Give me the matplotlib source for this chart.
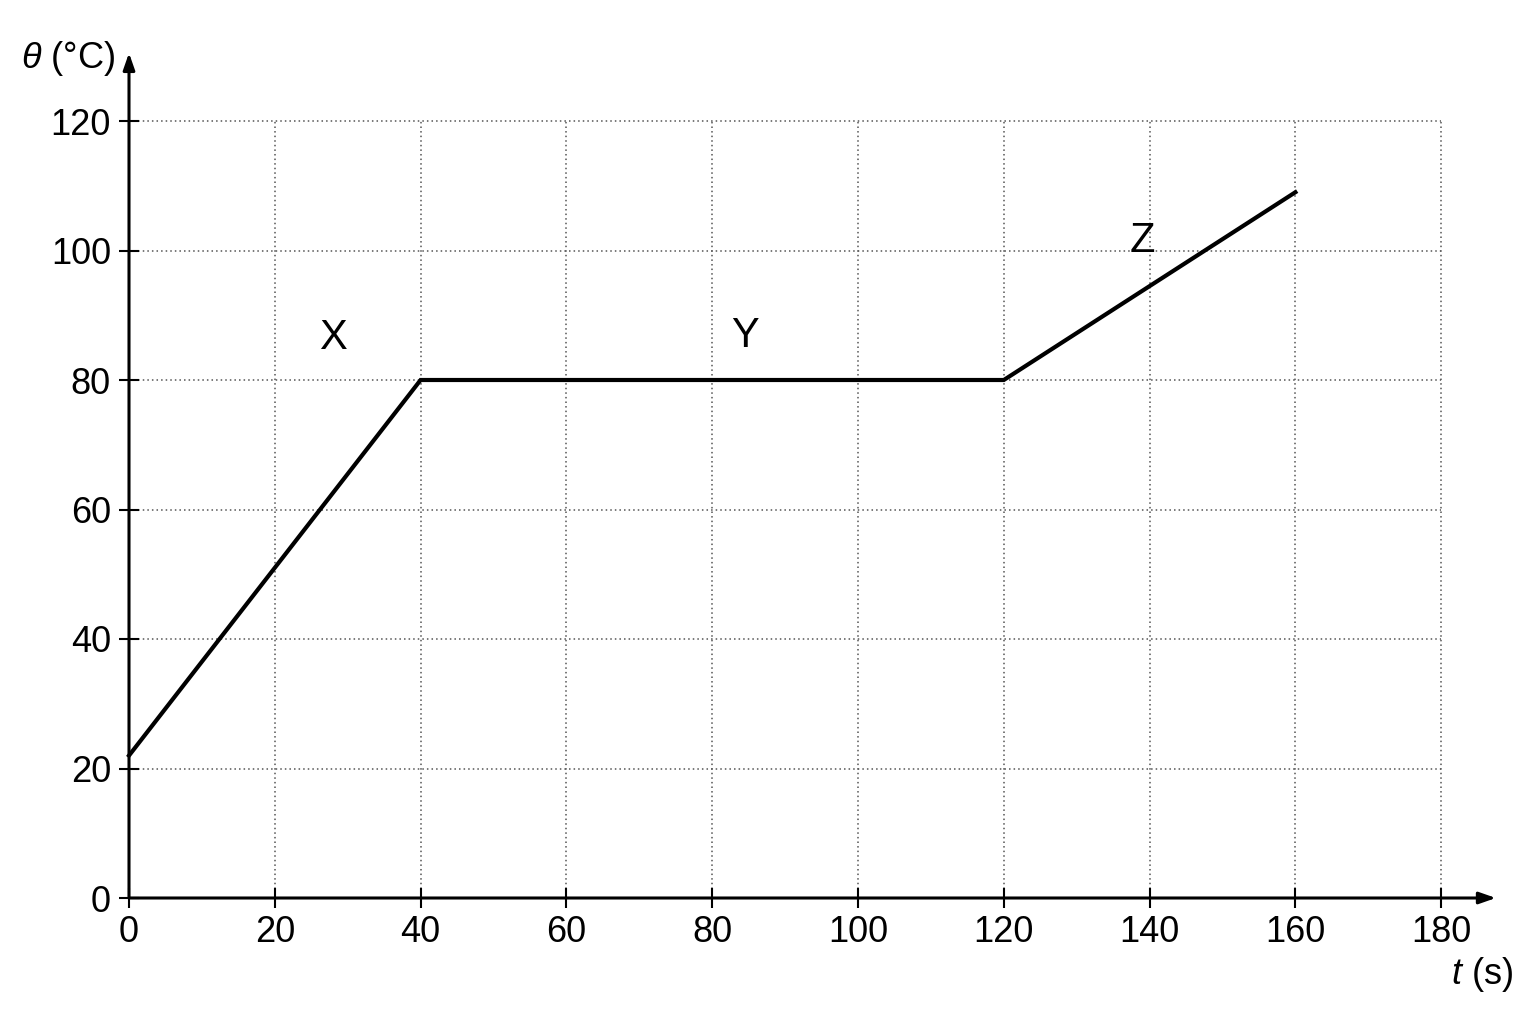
import matplotlib
matplotlib.use("Agg")
import matplotlib.pyplot as plt

# Data
t_vals = [0, 40, 120, 160]
theta_vals = [22, 80, 80, 109]
x_ticks = [0, 20, 40, 60, 80, 100, 120, 140, 160, 180]
y_ticks = [0, 20, 40, 60, 80, 100, 120]
region_labels = ["X", "Y", "Z"]
region_x = [28, 84.5, 139]
region_y = [86.5, 86.8, 101.5]

plt.rcParams['font.family'] = ['Liberation Sans', 'DejaVu Sans']
plt.rcParams['mathtext.fontset'] = 'custom'
plt.rcParams['mathtext.it'] = 'Liberation Sans:italic'
plt.rcParams['mathtext.rm'] = 'Liberation Sans'

fig = plt.figure(figsize=(15.36, 10.24), dpi=100)
ax = fig.add_axes([129/1536, 126/1024, 188*7.29/1536, 131*6.475/1024])
ax.set_xlim(0, 188)
ax.set_ylim(0, 131)

# grid limited to tick range
ax.vlines(x_ticks[1:], 0, y_ticks[-1], colors='#555555', linestyles=(0, (1, 2)), lw=1.1, zorder=1)
ax.hlines(y_ticks[1:], 0, x_ticks[-1], colors='#555555', linestyles=(0, (1, 2)), lw=1.1, zorder=1)

for s in ax.spines.values():
    s.set_visible(False)

# axes with arrows
ax.annotate('', xy=(187.5, 0), xytext=(0, 0),
            arrowprops=dict(arrowstyle='-|>,head_length=1.0,head_width=0.35', lw=2.2, color='black',
                            shrinkA=0, shrinkB=0), annotation_clip=False, zorder=3)
ax.annotate('', xy=(0, 130.5), xytext=(0, 0),
            arrowprops=dict(arrowstyle='-|>,head_length=1.0,head_width=0.35', lw=2.2, color='black',
                            shrinkA=0, shrinkB=0), annotation_clip=False, zorder=3)

ax.plot(t_vals, theta_vals, color='black', lw=3.0, solid_joinstyle='miter', zorder=4, clip_on=False)

for lab, x, y in zip(region_labels, region_x, region_y):
    ax.text(x, y, lab, fontsize=30, ha='center', va='center')

ax.set_xticks(x_ticks)
ax.set_yticks(y_ticks)
ax.tick_params(direction='inout', length=14, width=1.5, labelsize=26)
ax.tick_params(axis='x', pad=5)
ax.tick_params(axis='y', pad=6)

fig.text(68/1536, 1 - 58/1024, r'$\theta$ (°C)', fontsize=26, ha='center', va='center')
fig.text(1482/1536, 1 - 975/1024, r'$t$ (s)', fontsize=26, ha='center', va='center')

fig.savefig('out.png', dpi=100, facecolor='white')
